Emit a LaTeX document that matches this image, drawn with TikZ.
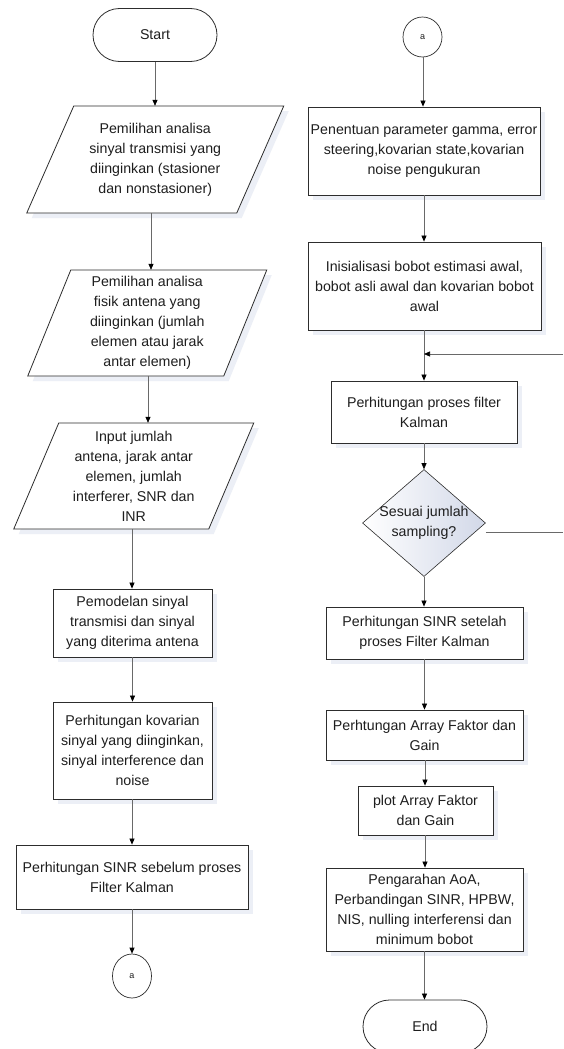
\documentclass[tikz,border=0pt]{standalone}
\usepackage{fontspec}
\setmainfont{Liberation Sans}
\usetikzlibrary{arrows.meta,shapes.geometric,shapes.misc,shadows,calc}
\definecolor{shadowc}{RGB}{236,239,246}
\definecolor{diamc}{RGB}{210,216,232}
\definecolor{linec}{RGB}{105,105,105}
\definecolor{borderc}{RGB}{45,45,45}
\definecolor{textc}{RGB}{30,30,30}
\tikzset{
  every node/.style={font=\fontsize{14.2}{20}\selectfont, text=textc, align=center, inner sep=0pt},
  boxshadow/.style={drop shadow={shadow xshift=5pt, shadow yshift=-5pt, fill=shadowc, opacity=1}},
  procbox/.style={rectangle, draw=borderc, line width=0.8pt, fill=white, boxshadow},
  termbox/.style={rounded rectangle, draw=borderc, line width=0.8pt, fill=white, minimum width=124pt, minimum height=53pt},
  offpage/.style={ellipse, draw=borderc, line width=0.7pt, fill=white, minimum width=39pt, font=\fontsize{9}{10}\selectfont},
  decbox/.style={diamond, draw=borderc, line width=0.6pt, left color=white, right color=diamc, minimum width=123pt, minimum height=107pt},
  paraline/.style={draw=borderc, line width=0.8pt, fill=white},
  flow/.style={draw=linec, line width=0.7pt, -{Triangle[length=6pt,width=5pt,color=black]}},
  plainline/.style={draw=linec, line width=0.7pt}
}
% parallelogram: cx, cy (downwards), width, height, slant
\newcommand\parashape[5]{%
  \fill[shadowc] ({#1-#3/2-#5/2+5},{-#2-#4/2-5}) -- ++(#3,0) -- ++(#5,#4) -- ++(-#3,0) -- cycle;
  \draw[paraline] ({#1-#3/2-#5/2},{-#2-#4/2}) -- ++(#3,0) -- ++(#5,#4) -- ++(-#3,0) -- cycle;
}
\begin{document}
\begin{tikzpicture}[x=1pt,y=1pt]
\useasboundingbox (0,0) rectangle (563,-1049);
\fill[white] (0,0) rectangle (563,-1049);

% ---------------- left column ----------------
\node[termbox] (start) at (155,-35) {Start};

\parashape{155.25}{159.5}{210}{107}{47}
\node[minimum height=107pt] (p1) at (155.25,-159.5) {Pemilihan analisa\\sinyal transmisi yang\\diinginkan (stasioner\\dan nonstasioner)};

\parashape{147.25}{323}{196}{106}{43}
\node[minimum height=106pt] (p2) at (147.25,-323) {Pemilihan analisa\\fisik antena yang\\diinginkan (jumlah\\elemen atau jarak\\antar elemen)};

\parashape{133.75}{476}{195}{106}{45}
\node[minimum height=106pt] (p3) at (133.75,-476) {Input jumlah\\antena, jarak antar\\elemen, jumlah\\interferer, SNR dan\\INR};

\node[procbox, minimum width=159pt, minimum height=68pt] (pem) at (132.5,-623) {Pemodelan sinyal\\transmisi dan sinyal\\yang diterima antena};
\node[procbox, minimum width=159pt, minimum height=97pt] (kov) at (132.5,-750.5) {Perhitungan kovarian\\sinyal yang diinginkan,\\sinyal interference dan\\noise};
\node[procbox, minimum width=232pt, minimum height=64pt] (sinra) at (132,-877) {Perhitungan SINR sebelum proses\\Filter Kalman};
\node[offpage, minimum height=44pt] (aa) at (132,-976) {a};

\draw[flow] (start.south) -- (start.south |- p1.north);
\draw[flow] (p1.south -| 151,0) -- (p2.north -| 151,0);
\draw[flow] (p2.south -| 148,0) -- (p3.north -| 148,0);
\draw[flow] (p3.south -| 132,0) -- (pem.north -| 132,0);
\draw[flow] (pem.south) -- (kov.north);
\draw[flow] (kov.south -| 132,0) -- (sinra.north -| 132,0);
\draw[flow] (sinra.south) -- (aa.north);

% ---------------- right column ----------------
\node[offpage, minimum height=40pt] (ab) at (422.5,-37) {a};
\node[procbox, minimum width=232pt, minimum height=88pt] (pen) at (424,-151) {Penentuan parameter gamma, error\\steering,kovarian state,kovarian\\noise pengukuran};
\node[procbox, minimum width=233pt, minimum height=88pt] (ini) at (424.5,-286) {Inisialisasi bobot estimasi awal,\\bobot asli awal dan kovarian bobot\\awal};
\node[procbox, minimum width=186pt, minimum height=62pt] (pros) at (424,-412) {Perhitungan proses filter\\Kalman};
\node[decbox, label={[align=center]center:Sesuai jumlah\\sampling?}] (dia) at (424,-523) {};
\node[procbox, minimum width=197pt, minimum height=52pt] (sinrb) at (424.5,-633) {Perhitungan SINR setelah\\proses Filter Kalman};
\node[procbox, minimum width=197pt, minimum height=50pt] (arr) at (424.5,-735) {Perhtungan Array Faktor dan\\Gain};
\node[procbox, minimum width=135pt, minimum height=49pt] (plot) at (425.5,-810.5) {plot Array Faktor\\dan Gain};
\node[procbox, minimum width=197pt, minimum height=83pt] (peng) at (424.5,-909.5) {Pengarahan AoA,\\Perbandingan SINR, HPBW,\\NIS, nulling interferensi dan\\minimum bobot};
\node[termbox] (end) at (425,-1026.5) {End};

\coordinate (fbin) at (563,-354);
\coordinate (fbout) at (563,-532);

\draw[flow] (ab.south -| 423,0) -- (pen.north -| 423,0);
\draw[flow] (pen.south) -- (ini.north -| pen.south);
\draw[flow] (ini.south -| 424,0) -- (pros.north -| 424,0);
\draw[flow] (fbin) -- (fbin -| 424,0);
\draw[flow] (pros.south) -- (dia.north);
\draw[plainline] ([yshift=-9pt]dia.east) -- (fbout);
\draw[flow] (dia.south) -- (sinrb.north -| dia.south);
\draw[flow] (sinrb.south -| 424.5,0) -- (arr.north -| 424.5,0);
\draw[flow] (arr.south -| 425,0) -- (plot.north -| 425,0);
\draw[flow] (plot.south -| 425,0) -- (peng.north -| 425,0);
\draw[flow] (peng.south -| 424.5,0) -- (end.north -| 424.5,0);
\end{tikzpicture}
\end{document}
